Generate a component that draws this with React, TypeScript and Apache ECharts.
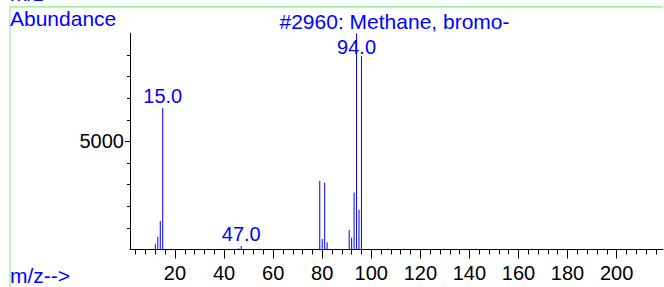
import React, { useEffect, useRef } from "react";
import * as echarts from "echarts";

// m/z values and abundances
const mzValues = [12, 13, 14, 15, 46, 47, 79, 80, 81, 82, 91, 92, 93, 94, 95, 96];
const abundances = [241, 594, 1322, 6549, 56, 162, 3177, 487, 3084, 334, 904, 547, 2634, 9999, 1832, 8943];
const labeledPeaks = [15, 47, 94];

const xMajorTicks = [20, 40, 60, 80, 100, 120, 140, 160, 180, 200];
const xMinorTicks = [4, 8, 12, 16, 20, 24, 28, 32, 36, 40, 44, 48, 52, 56, 60, 64, 68, 72, 76, 80, 84, 88, 92, 96, 100, 104, 108, 112, 116, 120, 124, 128, 132, 136, 140, 144, 148, 152, 156, 160, 164, 168, 172, 176, 180, 184, 188, 192, 196, 200, 204, 208, 212, 216];
const yMajorTicks = [5000];
const yMinorTicks = [1000, 2000, 3000, 4000, 5000, 6000, 7000, 8000, 9000];

const titleText = "#2960: Methane, bromo-";
const yAxisTitle = "Abundance";
const xAxisTitle = "m/z-->";

const FONT = "'Liberation Sans', Arial, Helvetica, sans-serif";
const BLUE = "#0000ff";
const GREEN = "#a6f2a6";

const X_MIN = 1.66;
const X_MAX = 218.9;

export default function App() {
  const ref = useRef<HTMLDivElement>(null);

  useEffect(() => {
    if (!ref.current) return;
    const chart = echarts.init(ref.current, null, { renderer: "svg" });

    const peakData = mzValues.map((m, i) => [m, abundances[i]]);
    const labelData = mzValues
      .map((m, i) => ({ m, a: abundances[i] }))
      .filter((d) => labeledPeaks.includes(d.m))
      .map((d) => ({
        value: [d.m, d.a],
        label: d.a > 9000 ? { offset: [0, 26] } : undefined,
      }));

    const option: any = {
      animation: false,
      backgroundColor: "#ffffff",
      grid: {
        left: 130,
        right: 1,
        top: 33.3,
        bottom: 37.5,
        containLabel: false,
        outerBoundsMode: "none",
      },
      xAxis: [
        {
          type: "value",
          position: "bottom",
          min: X_MIN,
          max: X_MAX,
          axisLine: { show: true, lineStyle: { color: "#000", width: 1 } },
          axisTick: {
            show: true,
            customValues: xMajorTicks,
            length: 9,
            lineStyle: { color: "#000", width: 1 },
          },
          axisLabel: {
            show: true,
            customValues: xMajorTicks,
            color: "#000",
            fontSize: 20,
            fontFamily: FONT,
            margin: 13,
            formatter: (v: number) => String(v),
          },
          splitLine: { show: false },
        },
        {
          type: "value",
          position: "bottom",
          min: X_MIN,
          max: X_MAX,
          axisLine: { show: false },
          axisTick: {
            show: true,
            customValues: xMinorTicks,
            length: 5,
            lineStyle: { color: "#000", width: 1 },
          },
          axisLabel: { show: false },
          splitLine: { show: false },
        },
      ],
      yAxis: [
        {
          type: "value",
          position: "left",
          min: 0,
          max: 10000,
          axisLine: { show: true, lineStyle: { color: "#000", width: 1 } },
          axisTick: {
            show: true,
            customValues: yMajorTicks,
            length: 5,
            lineStyle: { color: "#000", width: 1 },
          },
          axisLabel: {
            show: true,
            customValues: yMajorTicks,
            color: "#000",
            fontSize: 20,
            fontFamily: FONT,
            margin: 6,
            formatter: (v: number) => String(v),
          },
          splitLine: { show: false },
        },
        {
          type: "value",
          position: "left",
          min: 0,
          max: 10000,
          axisLine: { show: false },
          axisTick: {
            show: true,
            customValues: yMinorTicks,
            length: 3,
            lineStyle: { color: "#000", width: 1 },
          },
          axisLabel: { show: false },
          splitLine: { show: false },
        },
      ],
      series: [
        {
          type: "custom",
          xAxisIndex: 0,
          yAxisIndex: 0,
          data: peakData,
          clip: false,
          renderItem: (params: any, api: any) => {
            const x = api.value(0);
            const y = api.value(1);
            const p0 = api.coord([x, 0]);
            const p1 = api.coord([x, y]);
            return {
              type: "line",
              shape: { x1: p0[0], y1: p0[1], x2: p1[0], y2: p1[1] },
              style: { stroke: BLUE, lineWidth: 1 },
            };
          },
        },
        {
          type: "scatter",
          xAxisIndex: 0,
          yAxisIndex: 0,
          symbolSize: 0,
          data: labelData,
          silent: true,
          itemStyle: { opacity: 1, color: BLUE },
          label: {
            show: true,
            position: "top",
            distance: 2,
            color: BLUE,
            opacity: 1,
            fontSize: 20,
            fontFamily: FONT,
            formatter: (p: any) => Number(p.value[0]).toFixed(1),
          },
        },
      ],
      graphic: [
        {
          type: "line",
          shape: { x1: 10, y1: 6.8, x2: 663, y2: 6.8 },
          style: { stroke: GREEN, lineWidth: 1.8 },
          silent: true,
        },
        {
          type: "line",
          shape: { x1: 10, y1: 6, x2: 10, y2: 287 },
          style: { stroke: GREEN, lineWidth: 1.4 },
          silent: true,
        },
        {
          type: "text",
          x: 10,
          y: -6.8,
          style: {
            text: xAxisTitle,
            fill: BLUE,
            fontSize: 21,
            fontFamily: FONT,
            align: "left",
            verticalAlign: "middle",
          },
          silent: true,
        },
        {
          type: "text",
          x: 10,
          y: 18.7,
          style: {
            text: yAxisTitle,
            fill: BLUE,
            fontSize: 21,
            fontFamily: FONT,
            align: "left",
            verticalAlign: "middle",
          },
          silent: true,
        },
        {
          type: "text",
          x: 394.5,
          y: 21,
          style: {
            text: titleText,
            fill: BLUE,
            fontSize: 21,
            fontFamily: FONT,
            align: "center",
            verticalAlign: "middle",
          },
          silent: true,
        },
        {
          type: "text",
          x: 10,
          y: 275.7,
          style: {
            text: xAxisTitle,
            fill: BLUE,
            fontSize: 21,
            fontFamily: FONT,
            align: "left",
            verticalAlign: "middle",
          },
          silent: true,
        },
      ],
    };

    chart.setOption(option);
    return () => chart.dispose();
  }, []);

  return (
    <div
      ref={ref}
      style={{ position: "fixed", left: 0, top: 0, width: 664, height: 287, background: "#fff" }}
    />
  );
}
